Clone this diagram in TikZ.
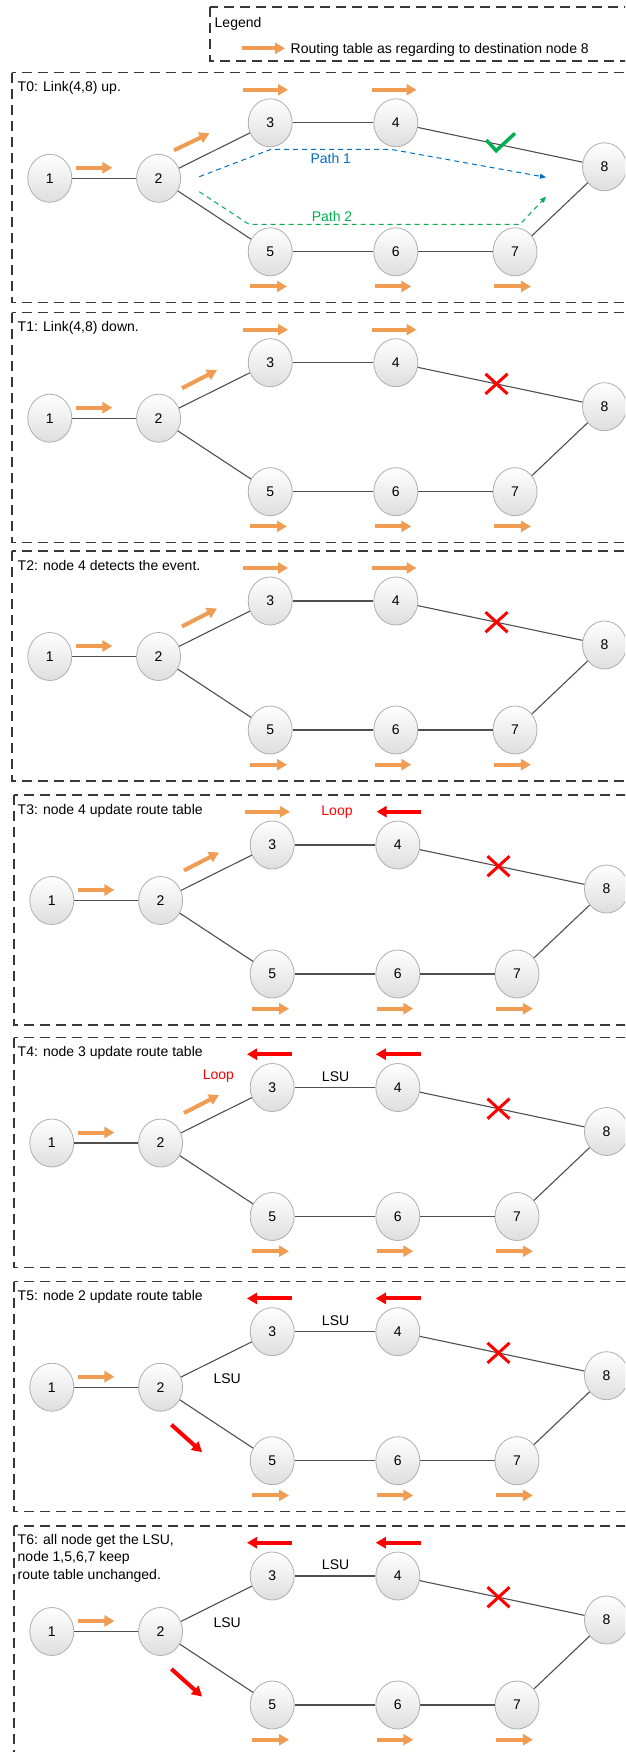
\documentclass[tikz,border=0pt]{standalone}
\usepackage{fontspec}
\setmainfont{Liberation Sans}
\usetikzlibrary{arrows.meta,shapes.geometric}
\definecolor{rtorange}{RGB}{240,156,82}
\definecolor{edgegray}{RGB}{80,80,80}
\definecolor{boxgray}{RGB}{55,55,55}
\definecolor{nodeborder}{RGB}{175,175,175}
\definecolor{okgreen}{RGB}{0,176,80}
\definecolor{pathblue}{RGB}{0,112,192}
\definecolor{pathgreen}{RGB}{0,176,80}
\definecolor{lossred}{RGB}{255,0,0}
\tikzset{
  panelbox/.style={draw=boxgray, line width=1.2pt, dash pattern=on 10pt off 6pt},
  netnode/.style={ellipse, minimum width=44pt, minimum height=48pt, inner sep=0pt,
    draw=nodeborder, line width=0.8pt, top color=white, bottom color=black!13},
  link/.style={draw=edgegray, line width=1.1pt},
  rtarrow/.style={draw=rtorange, line width=4pt, -{Triangle[length=10pt,width=11pt]}},
  lossarrow/.style={draw=lossred, line width=4pt, -{Triangle[length=10pt,width=11pt]}},
  xmark/.style={draw=lossred, line width=3pt},
  okmark/.style={draw=okgreen, line width=3.5pt},
  titletext/.style={anchor=base west, inner sep=0pt},
  plain/.style={inner sep=0pt},
  redtext/.style={inner sep=0pt, text=lossred},
  pathone/.style={draw=pathblue, line width=1pt, dash pattern=on 5pt off 4pt, -{Triangle[length=6pt,width=5pt]}},
  pathtwo/.style={draw=pathgreen, line width=1pt, dash pattern=on 5pt off 4pt, -{Triangle[length=6pt,width=5pt]}},
}
\newcommand\netbase[1]{%
  \draw[panelbox] (12,0) rectangle (640,230);
  \node[netnode] (#1-1) at (49.8,105.5) {1};
  \node[netnode] (#1-2) at (158.6,105.5) {2};
  \node[netnode] (#1-3) at (270.2,50) {3};
  \node[netnode] (#1-4) at (395.8,50) {4};
  \node[netnode] (#1-5) at (270.2,179) {5};
  \node[netnode] (#1-6) at (395.8,179) {6};
  \node[netnode] (#1-7) at (515,179) {7};
  \node[netnode] (#1-8) at (604.5,94) {8};
  \draw[link] (#1-1) -- (#1-2);
  \draw[link] (#1-2) -- (#1-3);
  \draw[link] (#1-2) -- (#1-5);
  \draw[link] (#1-3) -- (#1-4);
  \draw[link] (#1-4) -- (#1-8);
  \draw[link] (#1-5) -- (#1-6);
  \draw[link] (#1-6) -- (#1-7);
  \draw[link] (#1-7) -- (#1-8);
  \draw[rtarrow] (75.7,95) -- (112.4,95);
  \draw[rtarrow] (250,213.7) -- (287,213.7);
  \draw[rtarrow] (375.4,213.7) -- (411.3,213.7);
  \draw[rtarrow] (494.2,213.7) -- (530.9,213.7);
}
\newcommand\linkcut{%
  \draw[xmark] (496.5,71.2) ++(-11,-10) -- ++(22,20);
  \draw[xmark] (496.5,71.2) ++(-11,10) -- ++(22,-20);
}
\begin{document}
\begin{tikzpicture}[x=1pt, y=-1pt, font=\fontsize{14}{17.3}\selectfont]
\useasboundingbox (0,0) rectangle (625,1752);
\clip (0,0) rectangle (625,1752);
\fill[white] (0,0) rectangle (625,1752);

% Legend
\draw[panelbox] (210,7) rectangle (640,61);
\node[titletext] (legendtitle) at (214.5,27.7) {Legend};
\coordinate (legA) at (241.7,48.3);
\coordinate (legB) at (285,48.3);
\draw[rtarrow] (legA) -- (legB);
\node[titletext] (legendtext) at (290.5,53.3) {Routing table as regarding to destination node 8};

% T0
\begin{scope}[shift={(0,72.8)}]
  \netbase{a}
  \node[titletext] (a-title) at (17.5,19) {T0: Link(4,8) up.};
  \draw[rtarrow] (243,17) -- (288,17);
  \draw[rtarrow] (372,17) -- (416.5,17);
  \draw[rtarrow] (174,77.5) -- (209.5,60.5);
  \draw[okmark] (486.3,67.2) -- (496.2,77.9) -- (515,60.5);
  \draw[pathone] (199.3,103.9) -- (271,76.5) -- (390.6,76.5) -- (546,104.5);
  \node[plain, text=pathblue] (a-p1) at (330.8,85.9) {Path 1};
  \draw[pathtwo] (199.3,118.9) -- (249,151.5) -- (520,151.5) -- (546,123.9);
  \node[plain, text=pathgreen] (a-p2) at (332,143.9) {Path 2};
\end{scope}

% T1
\begin{scope}[shift={(0,312.7)}]
  \netbase{b}
  \node[titletext] (b-title) at (17.5,19) {T1: Link(4,8) down.};
  \draw[rtarrow] (243,17) -- (288,17);
  \draw[rtarrow] (372,17) -- (416.5,17);
  \draw[rtarrow] (182,75.5) -- (217,57.5);
  \linkcut
\end{scope}

% T2
\begin{scope}[shift={(0,551)}]
  \netbase{c}
  \node[titletext] (c-title) at (17.5,19) {T2: node 4 detects the event.};
  \draw[rtarrow] (243,17) -- (288,17);
  \draw[rtarrow] (372,17) -- (416.5,17);
  \draw[rtarrow] (182,75.5) -- (217,57.5);
  \linkcut
\end{scope}

% T3
\begin{scope}[shift={(2,795)}]
  \netbase{d}
  \node[titletext] (d-title) at (15.5,19) {T3: node 4 update route table};
  \draw[rtarrow] (243,16.7) -- (288,16.7);
  \draw[lossarrow] (418.5,16.7) -- (374.6,16.7);
  \node[redtext] (d-loop) at (335,16.7) {Loop};
  \draw[rtarrow] (182,75.5) -- (217,57.5);
  \linkcut
\end{scope}

% T4
\begin{scope}[shift={(2,1037.5)}]
  \netbase{e}
  \node[titletext] (e-title) at (15.5,19) {T4: node 3 update route table};
  \draw[lossarrow] (290,16.7) -- (245,16.7);
  \draw[lossarrow] (418.5,16.7) -- (373.8,16.7);
  \node[redtext] (e-loop) at (216.4,38.7) {Loop};
  \node[plain] (e-lsu) at (333.6,39) {LSU};
  \draw[rtarrow] (182,75.5) -- (217,57.5);
  \linkcut
\end{scope}

% T5
\begin{scope}[shift={(2,1281.7)}]
  \netbase{f}
  \node[titletext] (f-title) at (15.5,19) {T5: node 2 update route table};
  \draw[lossarrow] (290,16.7) -- (245,16.7);
  \draw[lossarrow] (418.5,16.7) -- (373.8,16.7);
  \node[plain] (f-lsu) at (333.6,39) {LSU};
  \node[plain] (f-lsu2) at (225.2,96.5) {LSU};
  \draw[lossarrow] (169.4,143) -- (200.1,170.5);
  \linkcut
\end{scope}

% T6
\begin{scope}[shift={(2,1526)}]
  \netbase{g}
  \node[anchor=north west, inner sep=0pt, align=left] (g-title) at (15.5,8.1)
    {T6: all node get the LSU,\\node 1,5,6,7 keep\\route table unchanged.};
  \draw[lossarrow] (290,16.7) -- (245,16.7);
  \draw[lossarrow] (418.5,16.7) -- (373.8,16.7);
  \node[plain] (g-lsu) at (333.6,39) {LSU};
  \node[plain] (g-lsu2) at (225.2,96.5) {LSU};
  \draw[lossarrow] (169.4,143) -- (200.1,170.5);
  \linkcut
\end{scope}
\end{tikzpicture}
\end{document}
